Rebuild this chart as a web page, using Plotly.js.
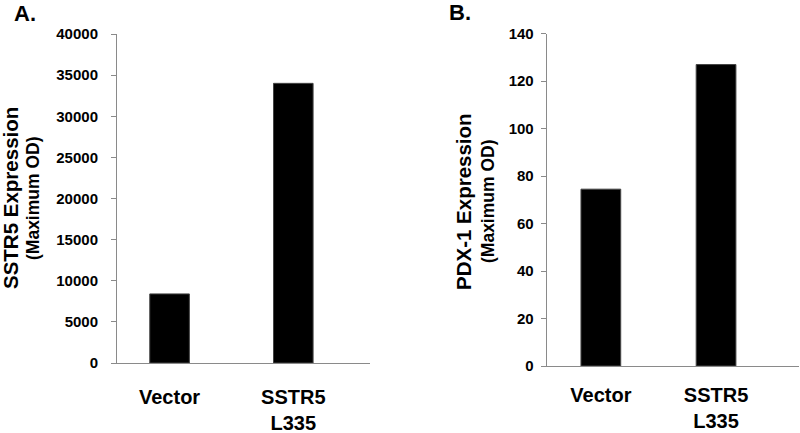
<!DOCTYPE html>
<html>
<head>
<meta charset="utf-8">
<script src="https://cdn.plot.ly/plotly-3.0.1.min.js"></script>
<style>html,body{margin:0;padding:0;background:#fff}#chart{width:800px;height:433px}</style>
</head>
<body>
<div id="chart"></div>
<script>
const categories = ['Vector', 'SSTR5<br>L335'];
const sstr5Values = [8400, 34000];
const pdx1Values = [74.5, 127];
const panelLabels = ['A.', 'B.'];
const yTitlesA = ['SSTR5 Expression', '(Maximum OD)'];
const yTitlesB = ['PDX-1 Expression', '(Maximum OD)'];

const W = 800, H = 433;
const px = v => v / W;
const py = v => 1 - v / H;
const FAM = 'Liberation Sans, Arial, Helvetica, sans-serif';
const AX = '#8a8a8a';

const traces = [
  {type: 'bar', x: categories, y: sstr5Values, xaxis: 'x', yaxis: 'y',
   marker: {color: '#000', line: {color: '#444', width: 1}}, width: 0.32, hoverinfo: 'skip'},
  {type: 'bar', x: categories, y: pdx1Values, xaxis: 'x2', yaxis: 'y2',
   marker: {color: '#000', line: {color: '#444', width: 1}}, width: 0.345, hoverinfo: 'skip'}
];

const xCommon = {
  type: 'category', showline: true, linecolor: AX, linewidth: 1, ticks: '',
  showgrid: false, zeroline: false, fixedrange: true,
  tickfont: {family: FAM, size: 20, color: '#000', weight: 'bold'}
};
const yCommon = {
  showline: true, linecolor: AX, linewidth: 1, ticks: 'outside', ticklen: 5,
  tickcolor: AX, tickwidth: 1, showgrid: false, zeroline: false, fixedrange: true,
  tickfont: {family: FAM, size: 15, color: '#000', weight: 'bold'}, tickformat: 'd'
};

const layout = {
  width: W, height: H, margin: {l: 0, r: 0, t: 0, b: 0},
  paper_bgcolor: '#fff', plot_bgcolor: '#fff', showlegend: false,
  xaxis: Object.assign({}, xCommon, {domain: [px(117), px(370)], range: [-0.425, 1.62], anchor: 'y', ticklabelstandoff: 16}),
  yaxis: Object.assign({}, yCommon, {domain: [py(363), py(34)], range: [0, 40000], dtick: 5000, anchor: 'x', ticklabelstandoff: 10}),
  xaxis2: Object.assign({}, xCommon, {domain: [px(546.7), px(799)], range: [-0.47, 1.72], anchor: 'y2', ticklabelstandoff: 11}),
  yaxis2: Object.assign({}, yCommon, {domain: [py(366), py(33.7)], range: [0, 140], dtick: 20, anchor: 'x2', ticklabelstandoff: 4}),
  annotations: [
    {text: panelLabels[0], xref: 'paper', yref: 'paper', x: px(12), y: py(13), xanchor: 'left', yanchor: 'middle', showarrow: false,
     font: {family: FAM, size: 22, color: '#000', weight: 'bold'}},
    {text: panelLabels[1], xref: 'paper', yref: 'paper', x: px(447), y: py(12), xanchor: 'left', yanchor: 'middle', showarrow: false,
     font: {family: FAM, size: 22, color: '#000', weight: 'bold'}},
    {text: yTitlesA[0], xref: 'paper', yref: 'paper', x: px(10.5), y: py(198.5), xanchor: 'center', yanchor: 'middle', textangle: -90, showarrow: false,
     font: {family: FAM, size: 20.5, color: '#000', weight: 'bold'}},
    {text: yTitlesA[1], xref: 'paper', yref: 'paper', x: px(33.5), y: py(198.5), xanchor: 'center', yanchor: 'middle', textangle: -90, showarrow: false,
     font: {family: FAM, size: 17.5, color: '#000', weight: 'bold'}},
    {text: yTitlesB[0], xref: 'paper', yref: 'paper', x: px(463.5), y: py(201.5), xanchor: 'center', yanchor: 'middle', textangle: -90, showarrow: false,
     font: {family: FAM, size: 20.5, color: '#000', weight: 'bold'}},
    {text: yTitlesB[1], xref: 'paper', yref: 'paper', x: px(488.5), y: py(201.5), xanchor: 'center', yanchor: 'middle', textangle: -90, showarrow: false,
     font: {family: FAM, size: 17.5, color: '#000', weight: 'bold'}}
  ]
};

Plotly.newPlot('chart', traces, layout, {staticPlot: true, displayModeBar: false});
</script>
</body>
</html>
